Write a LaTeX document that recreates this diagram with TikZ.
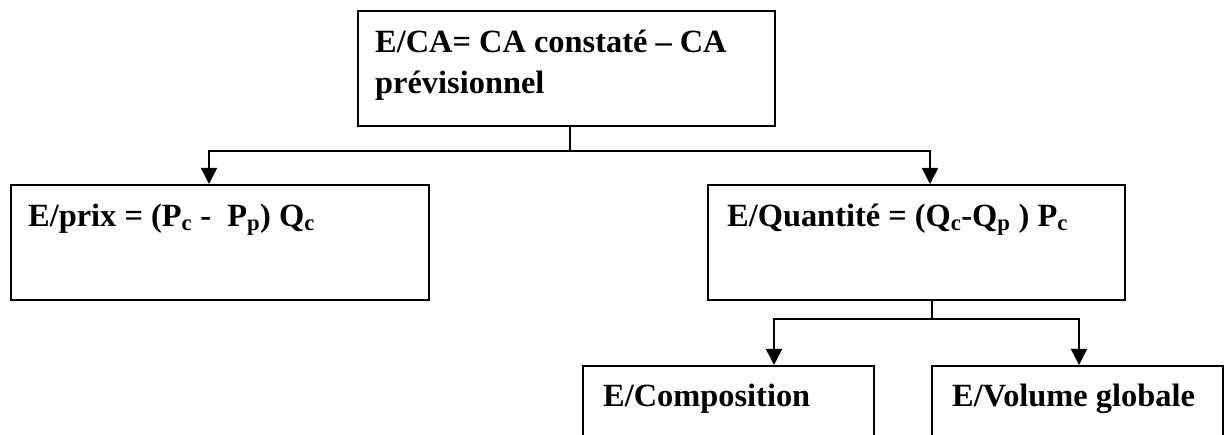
\documentclass[tikz,border=0pt]{standalone}
\usepackage{fontspec}
\setmainfont{Liberation Serif}
\usetikzlibrary{arrows.meta,calc}
\begin{document}
\begin{tikzpicture}[x=1pt,y=-1pt,
  box/.style={draw, line width=1.8pt, inner sep=0pt, anchor=north west},
  lbl/.style={anchor=base west, inner sep=0pt, font=\fontsize{32.4}{41}\selectfont\bfseries},
  link/.style={line width=1.5pt},
  conn/.style={line width=1.5pt, -{Triangle[width=16pt,length=16pt]}}]
\useasboundingbox (0,0) rectangle (1224,435);
\clip (0,0) rectangle (1224,435);
% boxes
\node[box, minimum width=417pt, minimum height=115pt] (top) at (357,10) {};
\node[box, minimum width=418pt, minimum height=115pt] (left) at (10,184) {};
\node[box, minimum width=417pt, minimum height=115pt] (right) at (707,184) {};
\node[box, minimum width=291pt, minimum height=110pt] (comp) at (582,365) {};
\node[box, minimum width=291pt, minimum height=110pt] (vol) at (931,365) {};
% texts
\node[lbl] (t1) at (375,53) {E/CA= CA constaté – CA};
\node[lbl] (t2) at (375,94) {prévisionnel};
\node[lbl] (t3) at (28,227) {E/prix = (P\textsubscript{c} -\ \ P\textsubscript{p}) Q\textsubscript{c}};
\node[lbl] (t4) at (727,227) {E/Quantité = (Q\textsubscript{c}-Q\textsubscript{p}\ ) P\textsubscript{c}};
\node[lbl] (t5) at (603,407) {E/Composition};
\node[lbl] (t6) at (952,407) {E/Volume globale};
% connectors
\draw[link] ($(top.south)+(3.5,0)$) -- ++(0,24) coordinate (j1);
\draw[conn] (j1) -| ($(left.north west)+(199,0)$);
\draw[conn] (j1) -| ($(right.north west)+(223,0)$);
\draw[link] ($(right.south)+(15.5,0)$) -- ++(0,18) coordinate (j2);
\draw[conn] (j2) -| ($(comp.north west)+(192,0)$);
\draw[conn] (j2) -| ($(vol.north west)+(148,0)$);
\end{tikzpicture}
\end{document}
